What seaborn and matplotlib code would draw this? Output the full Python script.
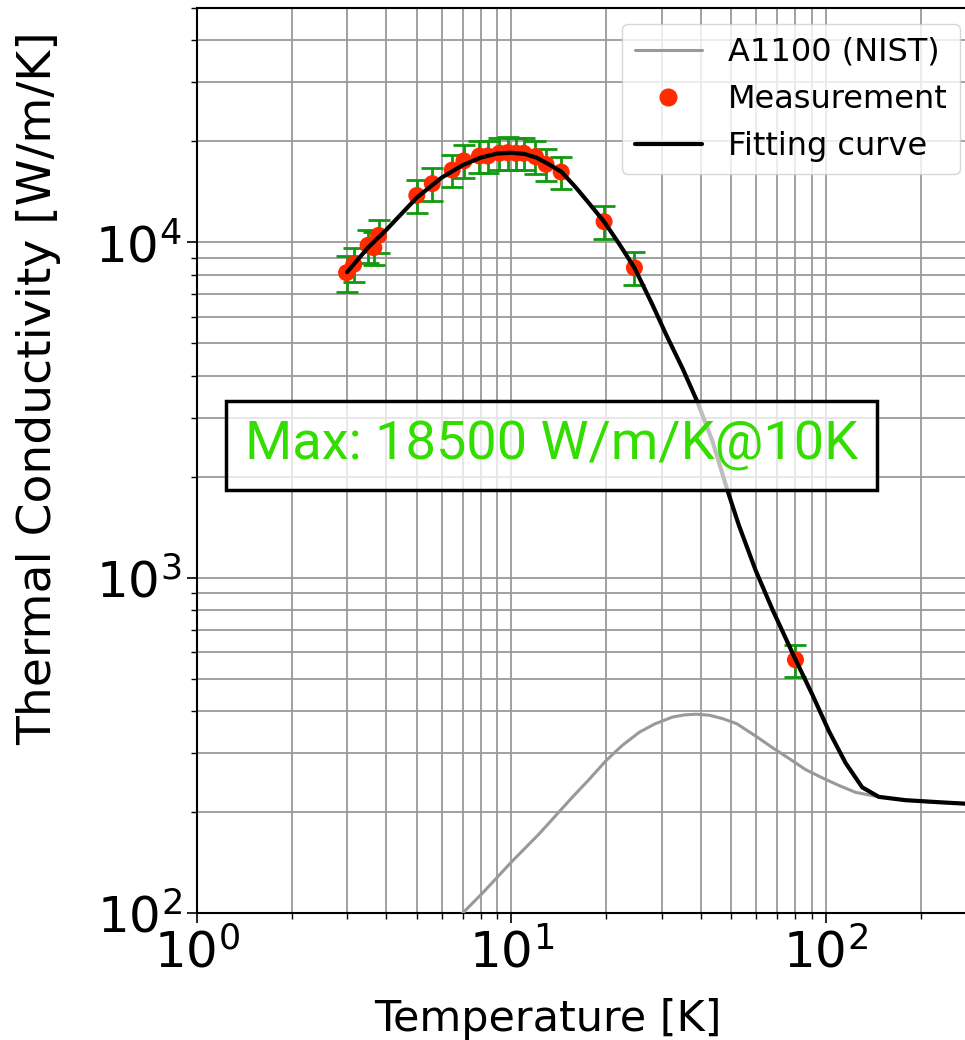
import matplotlib
matplotlib.use("Agg")
import matplotlib.pyplot as plt
import seaborn as sns
import pandas as pd
from matplotlib.lines import Line2D

# ---- data ----
meas_T = [2.99, 3.15, 3.50, 3.65, 3.78, 5.0, 5.6, 6.48, 7.06, 7.91, 8.41, 9.16, 9.73,
          10.35, 10.94, 11.92, 12.88, 14.39, 19.7, 24.6, 80.0]
meas_k = [8120, 8600, 9800, 9640, 10490, 13800, 14970, 16430, 17500, 18100, 18100,
          18440, 18520, 18440, 18440, 18020, 17090, 16210, 11530, 8400, 569]
meas_err = [1000, 1000, 1100, 1100, 1200, 1550, 1650, 1800, 1950, 2000, 2000,
            2050, 2050, 2050, 2050, 2000, 1900, 1800, 1300, 950, 62]

fit_T = [3.0, 3.5, 4.0, 5.0, 6.0, 7.0, 8.0, 9.0, 10.0, 11.0, 12.0, 13.0, 14.4, 16.0,
         17.5, 19.7, 22.0, 24.6, 28.0, 31.0, 35.0, 39.1, 43.6, 48.6, 52.9, 59.8, 67.6,
         80.1, 90.5, 102.3, 115.5, 130.4, 147.3, 179.0, 228.5, 300.0]
fit_k = [8150, 9650, 10900, 13600, 15600, 17000, 17900, 18400, 18500, 18350, 17900,
         17200, 16250, 14600, 13200, 11530, 9900, 8400, 6550, 5318, 4207, 3328, 2546,
         1823, 1430, 1050, 803, 569, 448, 348, 280, 237, 222, 217, 214, 211]

nist_T = [7.0, 8.08, 10.0, 12.27, 15.65, 17.5, 20.0, 22.5, 25.5, 28.5, 32.5, 35.5,
          38.6, 42.5, 46.9, 52.0, 59.8, 68.0, 76.3, 86.0, 97.3, 110.0, 124.2, 147.3,
          179.0, 228.5, 300.0]
nist_k = [100, 114.5, 142, 172.5, 222, 248, 285, 316, 346, 366, 384, 389.8,
          391.5, 389, 380, 367, 337, 310, 289, 268, 253, 240, 229, 222,
          217, 214, 211]

legend_labels = ["A1100 (NIST)", "Measurement", "Fitting curve"]
annot_text = "Max: 18500 W/m/K@10K"

# ---- style ----
sns.set_style("ticks")
plt.rcParams["font.family"] = ["DejaVu Sans"]
plt.rcParams["text.color"] = "black"
plt.rcParams["axes.labelcolor"] = "black"
plt.rcParams["xtick.color"] = "black"
plt.rcParams["ytick.color"] = "black"

fig = plt.figure(figsize=(9.65, 10.4), dpi=100)
ax = fig.add_axes([197 / 965, 127 / 1040, 779 / 965, 905 / 1040])
ax.set_xscale("log")
ax.set_yscale("log")

df_nist = pd.DataFrame({"T": nist_T, "k": nist_k})
df_fit = pd.DataFrame({"T": fit_T, "k": fit_k})
df_meas = pd.DataFrame({"T": meas_T, "k": meas_k, "err": meas_err})

sns.lineplot(data=df_nist, x="T", y="k", ax=ax, color="#999999", lw=2.2,
             sort=False, estimator=None, zorder=3)
ax.errorbar(df_meas["T"], df_meas["k"], yerr=df_meas["err"], fmt="none",
            ecolor="#109a10", elinewidth=2.0, capsize=8, capthick=2.0, zorder=4)
sns.scatterplot(data=df_meas, x="T", y="k", ax=ax, color="#ff2a00", s=150,
                edgecolor="none", zorder=5)
sns.lineplot(data=df_fit, x="T", y="k", ax=ax, color="black", lw=3.0,
             sort=False, estimator=None, zorder=6)

ax.set_xlim(1, 300)
ax.set_ylim(100, 50000)

ax.grid(True, which="both", color="#9a9a9a", lw=1.3)
ax.set_axisbelow(True)
for s in ax.spines.values():
    s.set_visible(True)
    s.set_color("black")
    s.set_linewidth(1.5)

ax.tick_params(axis="both", which="major", labelsize=36, length=7, width=1.2,
               direction="out", pad=4)
ax.tick_params(axis="both", which="minor", length=4, width=1.0)

ax.set_xlabel("Temperature [K]", fontsize=31)
ax.set_ylabel("Thermal Conductivity [W/m/K]", fontsize=34)
ax.xaxis.set_label_coords(0.4506, -0.094)
ax.yaxis.set_label_coords(-0.175, 0.58)

handles = [
    Line2D([], [], color="#999999", lw=2.2),
    Line2D([], [], color="#ff2a00", marker="o", ls="none", markersize=12),
    Line2D([], [], color="black", lw=3.0),
]
ax.legend(handles, legend_labels, loc="upper right", fontsize=23, frameon=True,
          framealpha=0.8, handlelength=2.1)

ax.text(0.4552, 0.5166, annot_text, transform=ax.transAxes, ha="center", va="center",
        fontsize=39, color="#33dd00", family=["Roboto", "DejaVu Sans"], zorder=10,
        bbox=dict(boxstyle="square,pad=0.35", facecolor=(1, 1, 1, 0.75),
                  edgecolor="black", lw=2.5))

fig.savefig("out.png", dpi=100)
